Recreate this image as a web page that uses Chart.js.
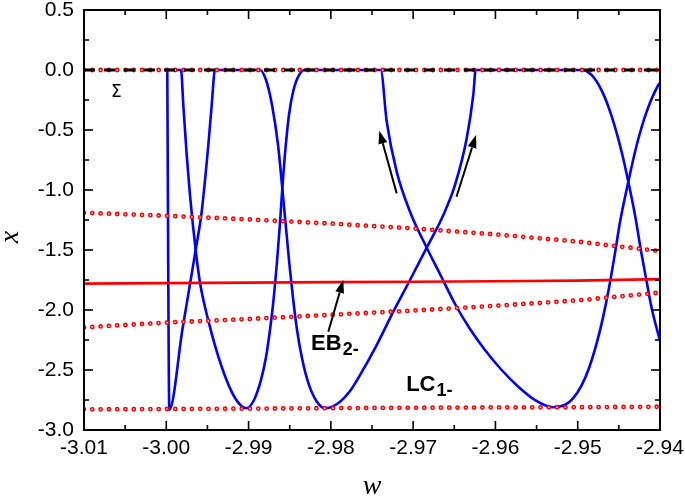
<!DOCTYPE html>
<html>
<head>
<meta charset="utf-8">
<script src="https://cdn.jsdelivr.net/npm/chart.js@4.4.1/dist/chart.umd.min.js"></script>
<style>
  html, body { margin: 0; padding: 0; background: #fff; }
</style>
</head>
<body>
<canvas id="chart" width="685" height="496"></canvas>
<script>
// limit cycle branch 1 (blue)
const lc1W = [-2.99988, -2.99963, -2.99803, -2.99643, -2.99570, -2.99489, -2.99448, -2.99408, -2.98861, -2.98788,
  -2.98715, -2.98642, -2.98590, -2.98545, -2.98503, -2.98460, -2.98411, -2.98351, -2.98274, -2.98172,
  -2.98071, -2.97925, -2.97767, -2.97646, -2.97443, -2.97241, -2.97038, -2.96835, -2.96633, -2.96491,
  -2.96349, -2.96269, -2.96240, -2.94951, -2.94830, -2.94708, -2.94587, -2.94465, -2.94385, -2.94304,
  -2.94222, -2.94162, -2.94101, -2.94000];
const lc1X = [0, -2.83, -2.158, -1.5, -1.181, -0.625, -0.292, 0, 0, -0.083,
  -0.292, -0.625, -0.986, -1.317, -1.625, -1.9, -2.167, -2.4, -2.608, -2.763,
  -2.819, -2.783, -2.675, -2.542, -2.292, -2.014, -1.75, -1.481, -1.208, -0.958,
  -0.569, -0.208, 0, 0, -0.043, -0.172, -0.386, -0.685, -0.931, -1.208,
  -1.542, -1.764, -1.986, -2.258];

// limit cycle branch 2 (blue)
const lc2W = [-2.99988, -2.99821, -2.99793, -2.99752, -2.99712, -2.99643, -2.99590, -2.99489, -2.99327, -2.99165,
  -2.99023, -2.98934, -2.98849, -2.98788, -2.98740, -2.98697, -2.98655, -2.98620, -2.98590, -2.98551,
  -2.98509, -2.98454, -2.98387, -2.98314, -2.97394, -2.97321, -2.97200, -2.97038, -2.96835, -2.96674,
  -2.96491, -2.96309, -2.96127, -2.95924, -2.95722, -2.95519, -2.95297, -2.95151, -2.95054, -2.94956,
  -2.94859, -2.94762, -2.94689, -2.94616, -2.94543, -2.94486, -2.94385, -2.94283, -2.94162, -2.94020,
  -2.94000];
const lc2X = [0, 0, -0.292, -0.708, -1.042, -1.5, -1.773, -2.089, -2.473, -2.733,
  -2.819, -2.75, -2.583, -2.392, -2.167, -1.917, -1.6, -1.292, -0.986, -0.65,
  -0.375, -0.167, -0.042, 0, 0, -0.431, -0.847, -1.181, -1.481, -1.7,
  -1.95, -2.158, -2.333, -2.5, -2.639, -2.75, -2.811, -2.789, -2.734, -2.633,
  -2.477, -2.258, -2.051, -1.802, -1.509, -1.267, -0.931, -0.625, -0.347, -0.125,
  -0.108];

// equilibrium branches (red)
const eqW = [-3.01, -3.00, -2.99, -2.98, -2.97, -2.96, -2.95, -2.94];
const unstableUpper = [-1.19, -1.215, -1.245, -1.28, -1.32, -1.37, -1.43, -1.51];
const unstableLower = [-2.145, -2.105, -2.075, -2.04, -2.005, -1.965, -1.92, -1.855];
const unstableBottom = [-2.828, -2.825, -2.822, -2.818, -2.815, -2.812, -2.81, -2.806];
const stableEB = [-1.78, -1.776, -1.772, -1.768, -1.764, -1.76, -1.755, -1.743];
const sigmaW = [-3.01, -2.94];
const sigmaX = [0, 0];

// annotations: [tailW, tailX, tipW, tipX]
const arrows = [
  [-2.97200, -1.028, -2.97411, -0.506],
  [-2.96473, -1.056, -2.96236, -0.542],
  [-2.98031, -2.181, -2.97849, -1.75]
];
// [text, subscript, w, x]
const labels = [
  ['EB', '2-', -2.98240, -2.333],
  ['LC', '1-', -2.97085, -2.676]
];
const sigmaLabel = ['\u03A3', -3.00672, -0.225];

const xTicks = { min: -3.01, max: -2.94, step: 0.01 };
const yTicks = { min: -3.0, max: 0.5, step: 0.5 };

function pts(ws, xs) {
  return ws.map((w, i) => ({ x: w, y: xs[i] }));
}

const RED = '#ff0000';
const BLUE = '#0000ff';

function dotted(data, order) {
  return [
    { data: data, borderColor: RED, borderWidth: 4.8, borderDash: [0, 8.3], borderCapStyle: 'round', order: order + 1 },
    { data: data, borderColor: '#ffdede', borderWidth: 1.7, borderDash: [0, 8.3], borderCapStyle: 'round', order: order }
  ];
}

const decor = {
  id: 'decor',
  afterDatasetsDraw(chart) {
    const { ctx, chartArea: a, scales: { x, y } } = chart;
    ctx.save();
    ctx.strokeStyle = '#000';
    ctx.lineWidth = 2;
    ctx.strokeRect(a.left, a.top, a.right - a.left, a.bottom - a.top);

    function tick(x0, y0, dx, dy) {
      ctx.beginPath();
      ctx.moveTo(x0, y0);
      ctx.lineTo(x0 + dx, y0 + dy);
      ctx.stroke();
    }
    ctx.lineWidth = 1.6;
    x.ticks.forEach((t, i) => {
      const px = x.getPixelForValue(t.value);
      tick(px, a.bottom, 0, -9);
      tick(px, a.top, 0, 9);
      if (i < x.ticks.length - 1) {
        const m = x.getPixelForValue(t.value + xTicks.step / 2);
        tick(m, a.bottom, 0, -5);
        tick(m, a.top, 0, 5);
      }
    });
    y.ticks.forEach((t, i) => {
      const py = y.getPixelForValue(t.value);
      tick(a.left, py, 9, 0);
      tick(a.right, py, -9, 0);
      if (i < y.ticks.length - 1) {
        const m = y.getPixelForValue(t.value + yTicks.step / 2);
        tick(a.left, m, 5, 0);
        tick(a.right, m, -5, 0);
      }
    });

    // arrows
    ctx.strokeStyle = '#000';
    ctx.fillStyle = '#000';
    ctx.lineWidth = 2;
    arrows.forEach(ar => {
      const x0 = x.getPixelForValue(ar[0]), y0 = y.getPixelForValue(ar[1]);
      const x1 = x.getPixelForValue(ar[2]), y1 = y.getPixelForValue(ar[3]);
      const ang = Math.atan2(y1 - y0, x1 - x0);
      const hl = 13, hw = 4.5;
      const bx = x1 - hl * Math.cos(ang), by = y1 - hl * Math.sin(ang);
      ctx.beginPath();
      ctx.moveTo(x0, y0);
      ctx.lineTo(bx, by);
      ctx.stroke();
      ctx.beginPath();
      ctx.moveTo(x1, y1);
      ctx.lineTo(bx + hw * Math.sin(ang), by - hw * Math.cos(ang));
      ctx.lineTo(bx - hw * Math.sin(ang), by + hw * Math.cos(ang));
      ctx.closePath();
      ctx.fill();
    });

    // text labels
    ctx.textBaseline = 'alphabetic';
    ctx.textAlign = 'left';
    labels.forEach(l => {
      const px = x.getPixelForValue(l[2]), py = y.getPixelForValue(l[3]);
      ctx.font = 'bold 22px "Liberation Sans", Arial, sans-serif';
      ctx.fillText(l[0], px, py);
      const w = ctx.measureText(l[0]).width;
      ctx.font = 'bold 18px "Liberation Sans", Arial, sans-serif';
      ctx.fillText(l[1], px + w + 1, py + 5);
    });
    ctx.font = '17px "DejaVu Sans", "Liberation Sans", sans-serif';
    ctx.fillText(sigmaLabel[0], x.getPixelForValue(sigmaLabel[1]), y.getPixelForValue(sigmaLabel[2]));

    // y axis title
    ctx.save();
    ctx.translate(11, 237);
    ctx.rotate(-Math.PI / 2);
    ctx.textAlign = 'center';
    ctx.textBaseline = 'middle';
    ctx.font = 'italic 28px "Liberation Serif", "DejaVu Serif", serif';
    ctx.fillText('x', 0, 0);
    ctx.restore();
    ctx.restore();
  }
};

const tickFont = { family: '"Liberation Sans", Arial, sans-serif', size: 21 };

new Chart(document.getElementById('chart').getContext('2d'), {
  type: 'scatter',
  data: {
    datasets: [
      { data: pts(lc1W, lc1X), borderColor: BLUE, borderWidth: 2.6, cubicInterpolationMode: 'monotone', order: 20 },
      { data: pts(lc2W, lc2X), borderColor: BLUE, borderWidth: 2.6, cubicInterpolationMode: 'monotone', order: 21 },
      { data: pts(sigmaW, sigmaX), borderColor: '#000', borderWidth: 2.8, borderDash: [11, 9], order: 0 },
      { data: pts(eqW, stableEB), borderColor: RED, borderWidth: 2.6, order: 8 },
      ...dotted(pts(eqW, unstableUpper), 2),
      ...dotted(pts(eqW, unstableLower), 2),
      ...dotted(pts(eqW, unstableBottom), 2),
      ...dotted(pts(sigmaW, sigmaX), 2)
    ].map(d => Object.assign({ showLine: true, pointRadius: 0, fill: false, tension: 0 }, d))
  },
  options: {
    responsive: false,
    animation: false,
    devicePixelRatio: 1,
    layout: { padding: { top: 10, right: 25, left: 0, bottom: 0 } },
    plugins: { legend: { display: false }, tooltip: { enabled: false } },
    scales: {
      x: {
        type: 'linear',
        min: xTicks.min,
        max: xTicks.max,
        grid: { display: false, drawTicks: false },
        border: { display: false },
        ticks: {
          stepSize: xTicks.step,
          autoSkip: false,
          maxRotation: 0,
          padding: 6,
          color: '#000',
          font: tickFont,
          callback: v => v.toFixed(2)
        },
        title: {
          display: true,
          text: 'w',
          color: '#000',
          padding: { top: 0, bottom: 0 },
          font: { family: '"Liberation Serif", "DejaVu Serif", serif', style: 'italic', size: 28, lineHeight: 0.7 }
        },
        afterFit: s => { s.height = 66; s.paddingLeft = 0; s.paddingRight = 0; }
      },
      y: {
        type: 'linear',
        min: yTicks.min,
        max: yTicks.max,
        grid: { display: false, drawTicks: false },
        border: { display: false },
        ticks: {
          stepSize: yTicks.step,
          padding: 10,
          color: '#000',
          font: tickFont,
          callback: v => v.toFixed(1)
        },
        afterFit: s => { s.width = 84; s.paddingTop = 0; s.paddingBottom = 0; }
      }
    }
  },
  plugins: [decor]
});
</script>
</body>
</html>
